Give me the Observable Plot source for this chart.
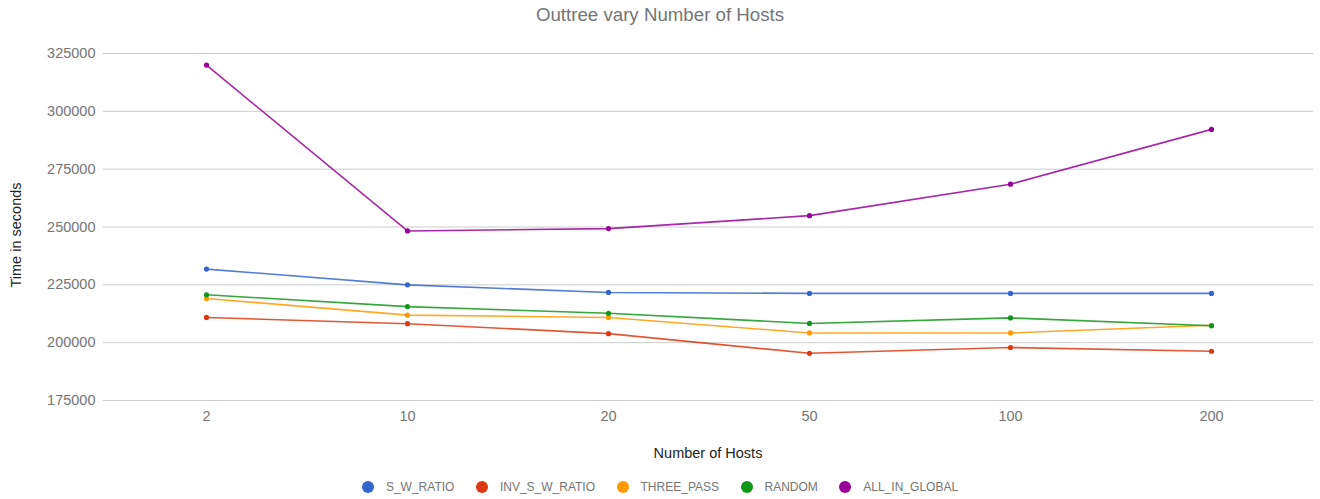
<!DOCTYPE html>
<html>
<head>
<meta charset="utf-8">
<script src="https://cdn.jsdelivr.net/npm/d3@7"></script>
<script src="https://cdn.jsdelivr.net/npm/@observablehq/plot@0.6"></script>
<style>
  html, body { margin: 0; padding: 0; background: #fff; }
  #wrap { position: relative; width: 1320px; height: 499px; font-family: "Liberation Sans", Arial, sans-serif; }
  #title { position: absolute; left: 0; width: 1320px; top: 4px; text-align: center; font-size: 18.7px; color: #757575; }
  #ylabel { position: absolute; left: 16px; top: 235px; transform: translate(-50%, -50%) rotate(-90deg); font-size: 14.5px; color: #222; white-space: nowrap; }
  #xlabel { position: absolute; left: 708px; top: 453px; transform: translate(-50%, -50%); font-size: 14.5px; color: #222; white-space: nowrap; }
  #legend { position: absolute; left: 0; width: 1320px; top: 480px; display: flex; justify-content: center; font-size: 12px; color: #757575; }
  .item { display: flex; align-items: center; margin: 0 10.75px; }
  .sw { width: 12px; height: 12px; border-radius: 50%; margin-right: 12px; }
</style>
</head>
<body>
<div id="wrap">
  <div id="chart"></div>
  <div id="title">Outtree vary Number of Hosts</div>
  <div id="ylabel">Time in seconds</div>
  <div id="xlabel">Number of Hosts</div>
  <div id="legend"></div>
</div>
<script>
// Number of hosts (categorical x axis)
const hosts = ["2", "10", "20", "50", "100", "200"];

// Series names and colours, in drawing order
const seriesNames = ["S_W_RATIO", "INV_S_W_RATIO", "THREE_PASS", "RANDOM", "ALL_IN_GLOBAL"];
const seriesColors = ["#3366cc", "#dc3912", "#ff9900", "#109618", "#990099"];

// Time in seconds per host count
const sWRatio     = [231800, 225000, 221700, 221300, 221300, 221300];
const invSWRatio  = [210900, 208200, 203900, 195400, 197900, 196300];
const threePass   = [219100, 211900, 210900, 204200, 204200, 207500];
const randomSeries= [220700, 215600, 212700, 208300, 210700, 207300];
const allInGlobal = [320000, 248300, 249300, 254900, 268500, 292200];

// y axis ticks
const yTicks = [175000, 200000, 225000, 250000, 275000, 300000, 325000];

const seriesValues = [sWRatio, invSWRatio, threePass, randomSeries, allInGlobal];
const rows = seriesNames.flatMap((name, s) =>
  hosts.map((h, i) => ({series: name, hosts: h, time: seriesValues[s][i]}))
);

const chart = Plot.plot({
  width: 1320,
  height: 499,
  marginLeft: 103,
  marginRight: 7,
  marginTop: 53,
  marginBottom: 99,
  style: {fontFamily: "Liberation Sans, Arial, sans-serif", background: "#fff"},
  x: {type: "point", domain: hosts, padding: 0.5},
  y: {domain: [175000, 325000]},
  color: {domain: seriesNames, range: seriesColors},
  marks: [
    Plot.ruleY(yTicks, {stroke: "#cccccc", strokeWidth: 1}),
    Plot.axisY({ticks: yTicks, tickSize: 0, tickPadding: 8, tickFormat: d => String(d), fontSize: 14.5, fill: "#757575", label: null}),
    Plot.axisX({tickSize: 0, tickPadding: 10, fontSize: 14.5, fill: "#757575", label: null}),
    Plot.line(rows, {x: "hosts", y: "time", z: "series", stroke: "series", strokeWidth: 1.6, strokeOpacity: 0.85, curve: "linear"}),
    Plot.dot(rows, {x: "hosts", y: "time", fill: "series", r: 2.6})
  ]
});
document.getElementById("chart").append(chart);

// Legend below the chart
const legend = document.getElementById("legend");
seriesNames.forEach((name, i) => {
  const item = document.createElement("div");
  item.className = "item";
  const sw = document.createElement("span");
  sw.className = "sw";
  sw.style.background = seriesColors[i];
  const label = document.createElement("span");
  label.textContent = name;
  item.append(sw, label);
  legend.append(item);
});
</script>
</body>
</html>
